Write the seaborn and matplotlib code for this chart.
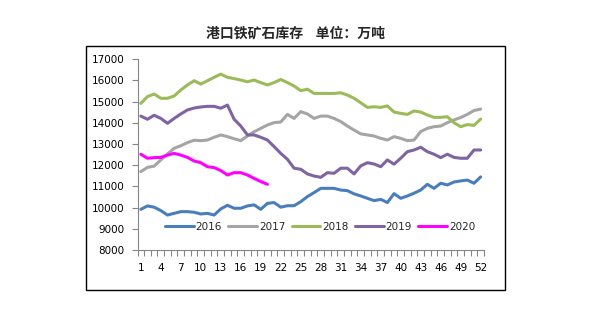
import numpy as np
import pandas as pd
import matplotlib
matplotlib.use("Agg")
import matplotlib.pyplot as plt
import seaborn as sns
from matplotlib.patches import Rectangle
from matplotlib.lines import Line2D
from matplotlib.ticker import FixedLocator

weeks = list(range(1, 53))
years = ["2016", "2017", "2018", "2019", "2020"]
colors = ["#4A7EBB", "#A5A5A5", "#9BBB59", "#8064A2", "#FF00FF"]

y2016 = [9920, 10080, 10020, 9860, 9650, 9730, 9810, 9810, 9780, 9700,
         9730, 9650, 9940, 10110, 9970, 9970, 10080, 10130, 9920, 10200,
         10240, 10020, 10090, 10090, 10280, 10520, 10710, 10910, 10910, 10910,
         10830, 10800, 10650, 10550, 10440, 10330, 10390, 10240, 10660, 10440,
         10550, 10680, 10830, 11100, 10910, 11150, 11070, 11210, 11260, 11300,
         11150, 11450]
y2017 = [11700, 11900, 11960, 12250, 12530, 12800, 12920, 13070, 13180, 13160,
         13190, 13320, 13430, 13350, 13250, 13160, 13380, 13580, 13740, 13900,
         14010, 14040, 14400, 14210, 14530, 14420, 14210, 14320, 14320, 14210,
         14060, 13850, 13660, 13480, 13430, 13380, 13270, 13190, 13350, 13270,
         13160, 13190, 13590, 13740, 13820, 13850, 14010, 14140, 14250, 14400,
         14580, 14650]
y2018 = [14920, 15240, 15360, 15160, 15160, 15270, 15550, 15790, 15990, 15830,
         15990, 16150, 16300, 16150, 16090, 16020, 15940, 16020, 15900, 15790,
         15900, 16050, 15900, 15740, 15520, 15590, 15390, 15390, 15390, 15390,
         15420, 15310, 15160, 14950, 14730, 14760, 14730, 14800, 14510, 14450,
         14400, 14560, 14510, 14370, 14260, 14260, 14290, 14010, 13820, 13920,
         13880, 14180]
y2019 = [14320, 14170, 14360, 14210, 13980, 14210, 14420, 14610, 14700, 14750,
         14780, 14780, 14690, 14840, 14170, 13850, 13430, 13430, 13320, 13190,
         12880, 12560, 12280, 11860, 11810, 11590, 11490, 11430, 11650, 11620,
         11860, 11860, 11590, 11970, 12120, 12060, 11930, 12250, 12050, 12330,
         12640, 12720, 12850, 12640, 12520, 12360, 12520, 12370, 12330, 12330,
         12720, 12720]
y2020 = [12520, 12330, 12360, 12370, 12480, 12560, 12480, 12370, 12200, 12120,
         11930, 11890, 11750, 11540, 11650, 11650, 11540, 11380, 11230, 11100]

series = [y2016, y2017, y2018, y2019, y2020]
ytick_vals = list(range(8000, 17001, 1000))
xtick_vals = list(range(1, 53, 3))

sns.set_theme(style="white")
plt.rcParams['font.family'] = ['DejaVu Sans', 'Noto Sans CJK SC']

rows = []
for yr, vals in zip(years, series):
    for w, v in zip(weeks, vals):
        rows.append({"week": w, "value": v, "year": yr})
df = pd.DataFrame(rows)

fig = plt.figure(figsize=(5.94, 3.24), dpi=100)
ax = fig.add_axes([137.5/594, 1-250/324, (484-137.5)/594, (250-59.3)/324])
palette = dict(zip(years, colors))
sns.lineplot(data=df, x="week", y="value", hue="year", palette=palette,
             linewidth=2.2, ax=ax, sort=False, estimator=None, legend=False)
for ln in ax.lines:
    ln.set_solid_joinstyle('round')
    ln.set_solid_capstyle('round')

ax.set_xlim(0.5, 52.5)
ax.set_ylim(8000, 17000)
ax.set_xlabel('')
ax.set_ylabel('')
ax.set_xticks(xtick_vals)
ax.set_xticklabels([str(v) for v in xtick_vals])
ax.set_yticks(ytick_vals)
ax.set_yticklabels([str(v) for v in ytick_vals])
ax.xaxis.set_minor_locator(FixedLocator(np.arange(0.5, 53, 1)))
ax.tick_params(axis='x', which='major', length=0, pad=9.5, labelsize=7.5, colors='black', bottom=True)
ax.tick_params(axis='x', which='minor', length=4, width=0.8, color='#868686', direction='out', bottom=True)
ax.tick_params(axis='y', which='major', length=4, width=0.8, color='#868686', direction='out',
               pad=5.5, labelsize=7.5, labelcolor='black', left=True)
for s in ['top', 'right']:
    ax.spines[s].set_visible(False)
for s in ['left', 'bottom']:
    ax.spines[s].set_color('#868686')
    ax.spines[s].set_linewidth(0.8)
ax.grid(False)

handles = [Line2D([], [], color=c, linewidth=2.2) for c in colors]
ax.legend(handles, years, loc='center', bbox_to_anchor=(0.527, 0.12), ncol=5, frameon=False,
          fontsize=7.5, handlelength=2.75, handletextpad=0.2, columnspacing=0.6)

fig.add_artist(Rectangle((86/594, 1-290/324), (505-86)/594, (290-46)/324,
                         transform=fig.transFigure, fill=False, edgecolor='black', linewidth=1))
fig.text(296/594, 1-34/324, "港口铁矿石库存    单位：万吨", ha='center', va='center',
         fontsize=10, fontweight='bold', family=['Noto Sans CJK SC', 'DejaVu Sans'])

fig.savefig('out.png', dpi=100)
